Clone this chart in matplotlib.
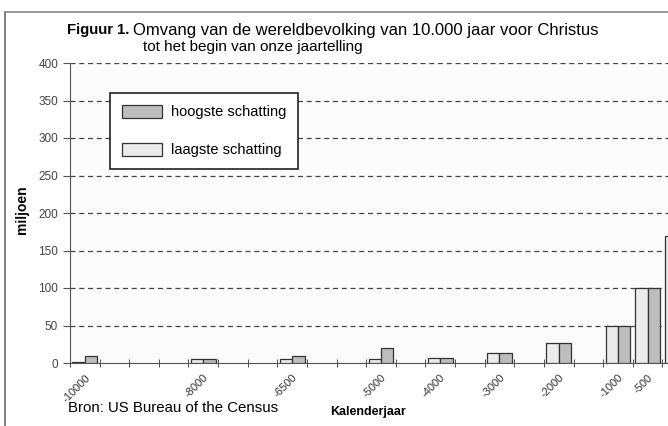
import matplotlib
matplotlib.use("Agg")
import matplotlib.pyplot as plt
from matplotlib.lines import Line2D

# data (US Bureau of the Census, miljoen)
jaren = [-10000, -8000, -6500, -5000, -4000, -3000, -2000, -1000, -500, 0]
jaar_labels = ['-10000', '-8000', '-6500', '-5000', '-4000', '-3000', '-2000', '-1000', '-500', '1']
laagste = [1, 5, 5, 5, 7, 14, 27, 50, 100, 170]
hoogste = [10, 5, 10, 20, 7, 14, 27, 50, 100, 400]

plt.rcParams['font.family'] = ['Liberation Sans', 'DejaVu Sans']

W, H = 668, 426
fig = plt.figure(figsize=(W / 100, H / 100), dpi=100)

def fx(px):
    return px / W

def fy(py):
    return 1 - py / H

# plot area runs past the right edge, like the cropped scan
ax = fig.add_axes([fx(70), fy(363), fx(692) - fx(70), fy(63) - fy(363)])
ax.set_facecolor('#fbfbfb')

bw = 210
ax.bar([j - bw / 2 for j in jaren], laagste, width=bw, color='#ebebeb',
       edgecolor='#333333', linewidth=0.9, label='laagste schatting', zorder=3)
ax.bar([j + bw / 2 for j in jaren], hoogste, width=bw, color='#bdbdbd',
       edgecolor='#333333', linewidth=0.9, label='hoogste schatting', zorder=3)

ax.set_xlim(-10250, 250)
ax.set_ylim(0, 400)
ax.set_yticks(range(0, 401, 50))
ax.set_xticks(jaren)
ax.set_xticklabels(jaar_labels, rotation=45, ha='right', va='top',
                   rotation_mode='anchor', fontsize=8, color='#333333')
# the last label falls outside the cropped scan
ax.get_xticklabels()[-1].set_visible(False)
ax.set_xticks(range(-10250, 251, 500), minor=True)
ax.tick_params(axis='x', which='major', length=0, pad=7)
ax.tick_params(axis='x', which='minor', length=6, direction='inout', color='#333333')
ax.tick_params(axis='y', length=5, direction='out', labelsize=8.5,
               labelcolor='#444444', color='#555555')

ax.yaxis.grid(True, linestyle=(0, (4, 3)), color='#444444', linewidth=0.9, zorder=1)
ax.get_ygridlines()[0].set_visible(False)

for s in ['top', 'right']:
    ax.spines[s].set_visible(False)
ax.spines['left'].set_color('#555555')
ax.spines['bottom'].set_color('#555555')

# legend: hoogste first
handles, labels = ax.get_legend_handles_labels()
leg = fig.legend(handles[::-1], labels[::-1], loc='upper left',
                 bbox_to_anchor=(fx(110), fy(93)), borderaxespad=0,
                 fontsize=10.5, handlelength=2.75, handleheight=1.0,
                 labelspacing=1.6, borderpad=0.8, handletextpad=0.6,
                 fancybox=False, edgecolor='#222222', framealpha=1)
leg.get_frame().set_linewidth(1.2)

# title
fig.text(fx(67), fy(30), 'Figuur 1.', fontsize=10.7, fontweight='bold',
         va='center', ha='left')
fig.text(fx(133), fy(30), 'Omvang van de wereldbevolking van 10.000 jaar voor Christus',
         fontsize=12, va='center', ha='left')
fig.text(fx(143), fy(47), 'tot het begin van onze jaartelling',
         fontsize=11, va='center', ha='left')

fig.text(fx(22), fy(210), 'miljoen', rotation=90, fontsize=10,
         fontweight='bold', va='center', ha='center')
fig.text(fx(330), fy(412), 'Kalenderjaar', fontsize=9, fontweight='bold',
         va='center', ha='left')
fig.text(fx(68), fy(408), 'Bron: US Bureau of the Census', fontsize=10.8,
         va='center', ha='left')

# scan frame
fig.add_artist(Line2D([fx(5), fx(5)], [0, fy(12)], color='#666666', linewidth=1.2))
fig.add_artist(Line2D([fx(5), 1], [fy(12), fy(12)], color='#888888', linewidth=1.2))

fig.savefig('out.png', dpi=100)
